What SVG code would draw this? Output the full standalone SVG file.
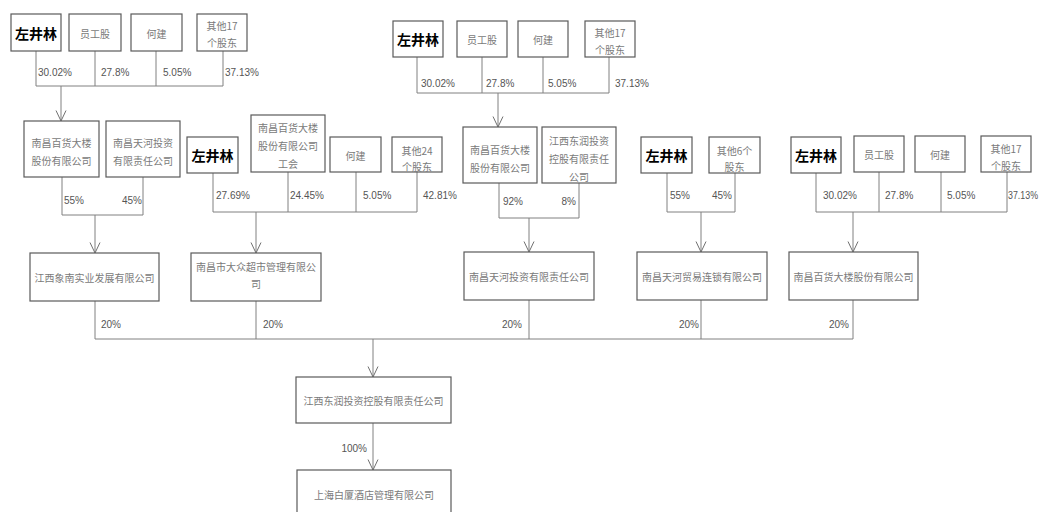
<svg xmlns="http://www.w3.org/2000/svg" width="1041" height="512" viewBox="0 0 1041 512">
<defs>
<marker id="arr" viewBox="0 0 12 12" refX="11.5" refY="6" markerWidth="12" markerHeight="12" markerUnits="userSpaceOnUse" orient="auto">
<path d="M1,1 L11.5,6 L1,11" fill="none" stroke="#707070" stroke-width="1"/>
</marker>
</defs>
<style>
.box{fill:#fff;stroke:#5a5a5a;stroke-width:1.2}
.t{font-family:"Noto Sans CJK SC","Noto Sans CJK JP",sans-serif;font-size:10px;fill:#7a7a7a;text-anchor:middle;dominant-baseline:central}
.b{font-family:"Noto Sans CJK SC","Noto Sans CJK JP",sans-serif;font-size:14px;font-weight:bold;fill:#000;text-anchor:middle;dominant-baseline:central}
.p{font-family:"Liberation Sans",Arial,sans-serif;font-size:10px;fill:#555;dominant-baseline:central}
.e{text-anchor:end}
.c{fill:none;stroke:#808080;stroke-width:1}
.a{marker-end:url(#arr)}
</style>
<rect width="1041" height="512" fill="#fff"/>

<g id="connectors">
<path class="c" d="M36,51V86M95,51V86M156,51V86M223,51V86M36,86H223"/>
<path class="c a" d="M61,86V121"/>
<path class="c" d="M62,177V215M143,177V215M62,215H143"/>
<path class="c a" d="M95,215V253"/>
<path class="c" d="M213,173V212M288,172V212M356,172V212M417,172V212M213,212H417"/>
<path class="c a" d="M256,212V253"/>
<path class="c" d="M417,57V93M482,57V93M543,57V93M609,57V93M417,93H609"/>
<path class="c a" d="M498,93V127"/>
<path class="c" d="M499,183V218M579,183V218M499,218H579"/>
<path class="c a" d="M529,218V252"/>
<path class="c" d="M667,173V212M735,173V212M667,212H735"/>
<path class="c a" d="M701,212V252"/>
<path class="c" d="M816,173V212M879,172V212M941,172V212M1007,172V212M816,212H1007"/>
<path class="c a" d="M853,212V252"/>
<path class="c" d="M95,301V339M256,301V339M529,300V339M701,300V339M853,300V339M95,339H853"/>
<path class="c a" d="M373,339V377"/>
<path class="c a" d="M373,423V470"/>
</g>

<g id="labels">
<text class="p" x="38" y="72">30.02%</text>
<text class="p" x="101" y="72">27.8%</text>
<text class="p" x="163" y="72">5.05%</text>
<text class="p" x="225" y="72">37.13%</text>
<text class="p" x="64" y="200">55%</text>
<text class="p e" x="142" y="200">45%</text>
<text class="p" x="216" y="195">27.69%</text>
<text class="p" x="290" y="195">24.45%</text>
<text class="p" x="363" y="195">5.05%</text>
<text class="p" x="423" y="195">42.81%</text>
<text class="p" x="421" y="83">30.02%</text>
<text class="p" x="486" y="83">27.8%</text>
<text class="p" x="548" y="83">5.05%</text>
<text class="p" x="615" y="83">37.13%</text>
<text class="p" x="503" y="201">92%</text>
<text class="p e" x="576" y="201">8%</text>
<text class="p" x="670" y="195">55%</text>
<text class="p" x="712" y="195">45%</text>
<text class="p" x="823" y="195">30.02%</text>
<text class="p" x="885" y="195">27.8%</text>
<text class="p" x="947" y="195">5.05%</text>
<text class="p" x="1008" y="195" textLength="30" lengthAdjust="spacingAndGlyphs">37.13%</text>
<text class="p" x="101" y="324">20%</text>
<text class="p" x="263" y="324">20%</text>
<text class="p e" x="522" y="324">20%</text>
<text class="p e" x="699" y="324">20%</text>
<text class="p e" x="849" y="324">20%</text>
<text class="p e" x="367" y="448">100%</text>
</g>

<g id="g1-zjl"><rect class="box" x="11" y="14" width="50" height="37"/><text class="b" x="36" y="33">左井林</text></g>
<g id="g1-ygg"><rect class="box" x="69" y="14" width="52" height="37"/><text class="t" x="95" y="33">员工股</text></g>
<g id="g1-hj"><rect class="box" x="131" y="14" width="51" height="37"/><text class="t" x="156.5" y="33">何建</text></g>
<g id="g1-qt"><rect class="box" x="197" y="14" width="50" height="37"/><text class="t" x="222" y="25">其他17</text><text class="t" x="222" y="42">个股东</text></g>
<g id="ncbh-a"><rect class="box" x="24" y="121" width="75" height="56"/><text class="t" x="61.5" y="142">南昌百货大楼</text><text class="t" x="61.5" y="160">股份有限公司</text></g>
<g id="ncth-a"><rect class="box" x="106" y="121" width="74" height="56"/><text class="t" x="143" y="142">南昌天河投资</text><text class="t" x="143" y="160">有限责任公司</text></g>

<g id="g2-zjl"><rect class="box" x="187" y="137" width="51" height="36"/><text class="b" x="212.5" y="155">左井林</text></g>
<g id="g2-gh"><rect class="box" x="251" y="115" width="74" height="57"/><text class="t" x="288" y="127">南昌百货大楼</text><text class="t" x="288" y="145">股份有限公司</text><text class="t" x="288" y="163">工会</text></g>
<g id="g2-hj"><rect class="box" x="330" y="137" width="51" height="35"/><text class="t" x="355.5" y="155">何建</text></g>
<g id="g2-qt"><rect class="box" x="392" y="137" width="50" height="35"/><text class="t" x="417" y="150">其他24</text><text class="t" x="417" y="166">个股东</text></g>

<g id="g3-zjl"><rect class="box" x="393" y="21" width="50" height="36"/><text class="b" x="418" y="39">左井林</text></g>
<g id="g3-ygg"><rect class="box" x="457" y="21" width="50" height="36"/><text class="t" x="482" y="39">员工股</text></g>
<g id="g3-hj"><rect class="box" x="518" y="21" width="50" height="36"/><text class="t" x="543" y="39">何建</text></g>
<g id="g3-qt"><rect class="box" x="585" y="21" width="50" height="36"/><text class="t" x="610" y="32">其他17</text><text class="t" x="610" y="49">个股东</text></g>
<g id="ncbh-b"><rect class="box" x="463" y="127" width="74" height="56"/><text class="t" x="500" y="149">南昌百货大楼</text><text class="t" x="500" y="167">股份有限公司</text></g>
<g id="jxdr-a"><rect class="box" x="542" y="127" width="74" height="56"/><text class="t" x="579" y="140">江西东润投资</text><text class="t" x="579" y="158">控股有限责任</text><text class="t" x="579" y="176">公司</text></g>

<g id="g4-zjl"><rect class="box" x="641" y="137" width="51" height="36"/><text class="b" x="666.5" y="155">左井林</text></g>
<g id="g4-qt"><rect class="box" x="709" y="137" width="51" height="36"/><text class="t" x="734.5" y="150">其他6个</text><text class="t" x="734.5" y="166">股东</text></g>

<g id="g5-zjl"><rect class="box" x="791" y="137" width="50" height="36"/><text class="b" x="816" y="155">左井林</text></g>
<g id="g5-ygg"><rect class="box" x="854" y="136" width="50" height="36"/><text class="t" x="879" y="154">员工股</text></g>
<g id="g5-hj"><rect class="box" x="915" y="136" width="50" height="36"/><text class="t" x="940" y="154">何建</text></g>
<g id="g5-qt"><rect class="box" x="981" y="136" width="50" height="36"/><text class="t" x="1006" y="148">其他17</text><text class="t" x="1006" y="165">个股东</text></g>

<g id="jxxn"><rect class="box" x="30" y="253" width="129" height="48"/><text class="t" x="94.5" y="277">江西象南实业发展有限公司</text></g>
<g id="dzcs"><rect class="box" x="191" y="253" width="130" height="48"/><text class="t" x="256" y="266">南昌市大众超市管理有限公</text><text class="t" x="256" y="283">司</text></g>
<g id="ncthtz"><rect class="box" x="464" y="252" width="130" height="48"/><text class="t" x="529" y="276">南昌天河投资有限责任公司</text></g>
<g id="ncthmy"><rect class="box" x="637" y="252" width="130" height="48"/><text class="t" x="702" y="276">南昌天河贸易连锁有限公司</text></g>
<g id="ncbh-c"><rect class="box" x="789" y="252" width="129" height="48"/><text class="t" x="853.5" y="276">南昌百货大楼股份有限公司</text></g>

<g id="jxdr-b"><rect class="box" x="296" y="377" width="155" height="46"/><text class="t" x="373.5" y="400">江西东润投资控股有限责任公司</text></g>
<g id="shbs"><rect class="box" x="297" y="470" width="154" height="50"/><text class="t" x="374" y="494">上海白厦酒店管理有限公司</text></g>
</svg>
